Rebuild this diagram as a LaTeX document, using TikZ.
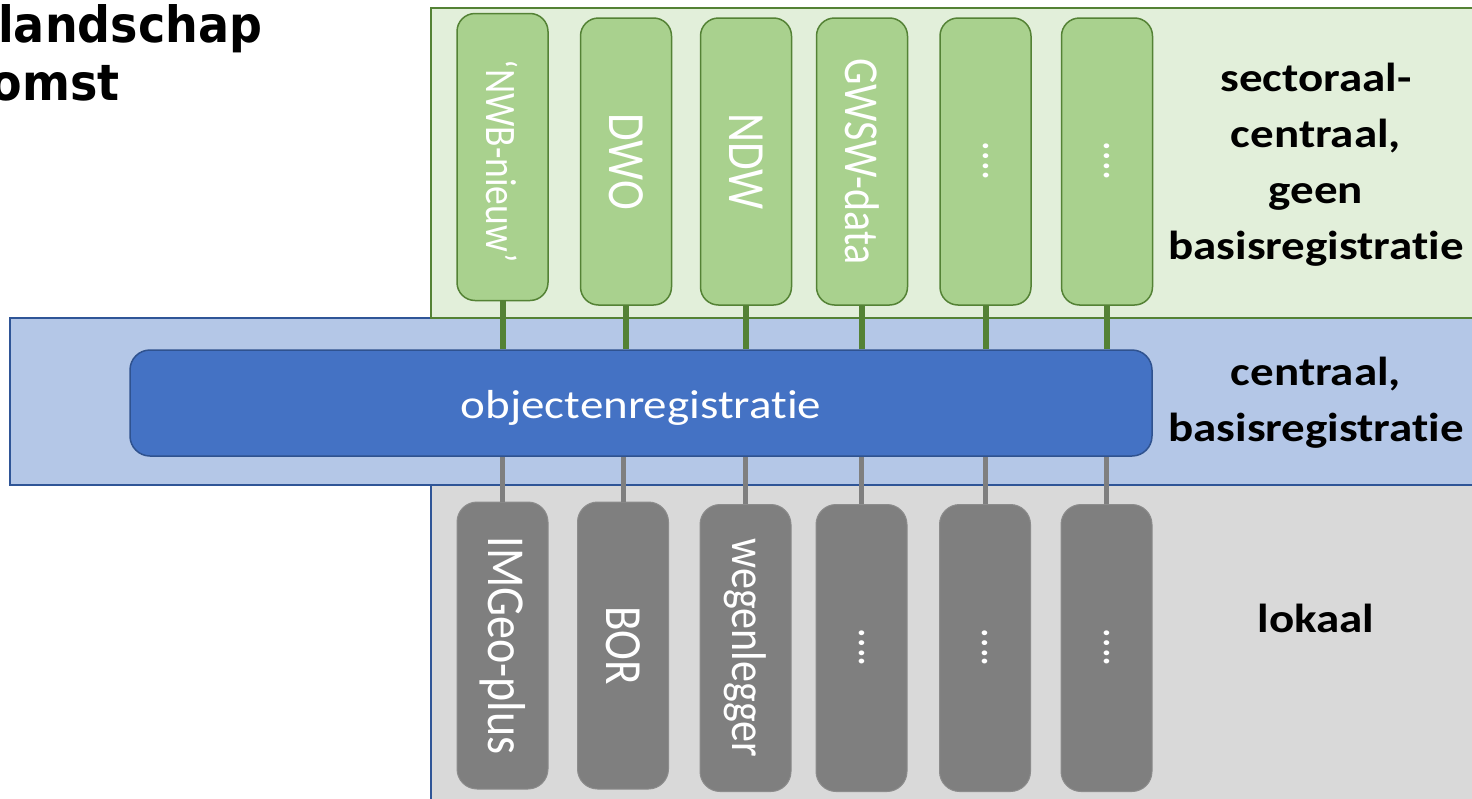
\documentclass[tikz,border=0pt]{standalone}
\usepackage{fontspec}
\usepackage{graphicx}
\setmainfont{Carlito}[Ligatures=NoCommon]
\newfontfamily\titlefont{DejaVu Sans}
\definecolor{greenbg}{HTML}{E2EFDA}
\definecolor{greenline}{HTML}{548235}
\definecolor{greenbox}{HTML}{A9D18E}
\definecolor{bluebg}{HTML}{B4C7E7}
\definecolor{blueline}{HTML}{2F5597}
\definecolor{bluebox}{HTML}{4472C4}
\definecolor{blueboxline}{HTML}{2F528F}
\definecolor{graybg}{HTML}{D9D9D9}
\definecolor{graybox}{HTML}{7F7F7F}
\definecolor{grayboxline}{HTML}{8C8C8C}
\newcommand{\hs}[1]{\scalebox{1.16}[1]{#1}}
\newcommand{\vs}[1]{\scalebox{1}[1.16]{#1}}
\begin{document}
\begin{tikzpicture}[x=1pt,y=-1pt,
  region/.style={draw, line width=2pt, inner sep=0pt, outer sep=0pt},
  gbox/.style={draw=greenline, fill=greenbox, line width=1.5pt, rounded corners=18pt,
    minimum width=91, minimum height=287, inner sep=0pt},
  lbox/.style={draw=grayboxline, fill=graybox, line width=1pt, rounded corners=20pt,
    minimum width=91, minimum height=287, inner sep=0pt},
  vtext/.style={text=white, rotate=-90, inner sep=0pt},
  gconn/.style={draw=greenline, line width=6pt},
  lconn/.style={draw=graybox, line width=5pt},
  sidelabel/.style={inner sep=0pt, text=black}
]
\useasboundingbox (0,0) rectangle (1472,798);

% regions
\node[region, draw=blueline, fill=bluebg, minimum width=1470, minimum height=167, anchor=north west] (band) at (10,318) {};
\node[region, draw=greenline, fill=greenbg, minimum width=1049, minimum height=310, anchor=north west] (sector) at (431,8) {};
\node[region, draw=blueline, fill=graybg, minimum width=1049, minimum height=320, anchor=north west] (local) at (431,485) {};

% central registry
\node[draw=blueboxline, fill=bluebox, line width=1.5pt, rounded corners=20pt, minimum width=1022, minimum height=106, inner sep=0pt] (obj) at (641,403) {};
\node[text=white, inner sep=0pt] (objt) at ([yshift=-5pt]obj.center) {\hs{\fontsize{40.5}{48}\selectfont objectenregistratie}};

% sector boxes
\node[gbox] (g1) at (502.5,157) {};
\node[gbox] (g2) at (626,161.5) {};
\node[gbox] (g3) at (746,161.5) {};
\node[gbox] (g4) at (862,161.5) {};
\node[gbox] (g5) at (985.5,161.5) {};
\node[gbox] (g6) at (1107,161.5) {};
\node[vtext] (gt1) at ([yshift=-4pt]g1.center) {\vs{\fontsize{37.5}{45}\selectfont ‘NWB-nieuw’}};
\node[vtext] (gt2) at (g2.center) {\vs{\fontsize{45}{52}\selectfont DWO}};
\node[vtext] (gt3) at (g3.center) {\vs{\fontsize{45}{52}\selectfont NDW}};
\node[vtext] (gt4) at (g4.center) {\vs{\fontsize{42}{50}\selectfont GWSW-data}};
\node[vtext] (gt5) at (g5.center) {\vs{\fontsize{40}{48}\selectfont ….}};
\node[vtext] (gt6) at (g6.center) {\vs{\fontsize{40}{48}\selectfont ….}};

% local boxes
\node[lbox] (l1) at (502.5,645.5) {};
\node[lbox] (l2) at (623,645.5) {};
\node[lbox] (l3) at (745.5,648) {};
\node[lbox] (l4) at (861.5,648) {};
\node[lbox] (l5) at (985,648) {};
\node[lbox] (l6) at (1106.5,648) {};
\node[vtext] (lt1) at (l1.center) {\vs{\fontsize{46}{54}\selectfont IMGeo-plus}};
\node[vtext] (lt2) at (l2.center) {\vs{\fontsize{45}{52}\selectfont BOR}};
\node[vtext] (lt3) at (l3.center) {\vs{\fontsize{42}{50}\selectfont wegenlegger}};
\node[vtext] (lt4) at (l4.center) {\vs{\fontsize{40}{48}\selectfont ….}};
\node[vtext] (lt5) at (l5.center) {\vs{\fontsize{40}{48}\selectfont ….}};
\node[vtext] (lt6) at (l6.center) {\vs{\fontsize{40}{48}\selectfont ….}};

% connectors
\foreach \b in {g1,g2,g3,g4,g5,g6}
  \draw[gconn] (\b.south) -- (\b.south |- obj.north);
\foreach \b in {l1,l2,l3,l4,l5,l6}
  \draw[lconn] (obj.south -| \b.north) -- (\b.north);

% side labels
\node[sidelabel] (s1) at (1316,164) {\hs{\fontsize{40.5}{56}\selectfont\bfseries
  \begin{tabular}{@{}c@{}}sectoraal-\\ centraal,\\ geen\\ basisregistratie\end{tabular}}};
\node[sidelabel] (s2) at (1316,402) {\hs{\fontsize{40.5}{56}\selectfont\bfseries
  \begin{tabular}{@{}c@{}}centraal,\\ basisregistratie\end{tabular}}};
\node[sidelabel] (s3) at (1316,618) {\hs{\fontsize{40.5}{56}\selectfont\bfseries lokaal}};

% title (cut off at the left edge)
\node[anchor=base west, inner sep=0pt] (title1) at (-2,42) {\scalebox{0.92}[1]{\titlefont\bfseries\fontsize{50}{58}\selectfont landschap}};
\node[anchor=base east, inner sep=0pt] (title2) at (120,100) {\scalebox{0.92}[1]{\titlefont\bfseries\fontsize{50}{58}\selectfont omst}};
\end{tikzpicture}
\end{document}
